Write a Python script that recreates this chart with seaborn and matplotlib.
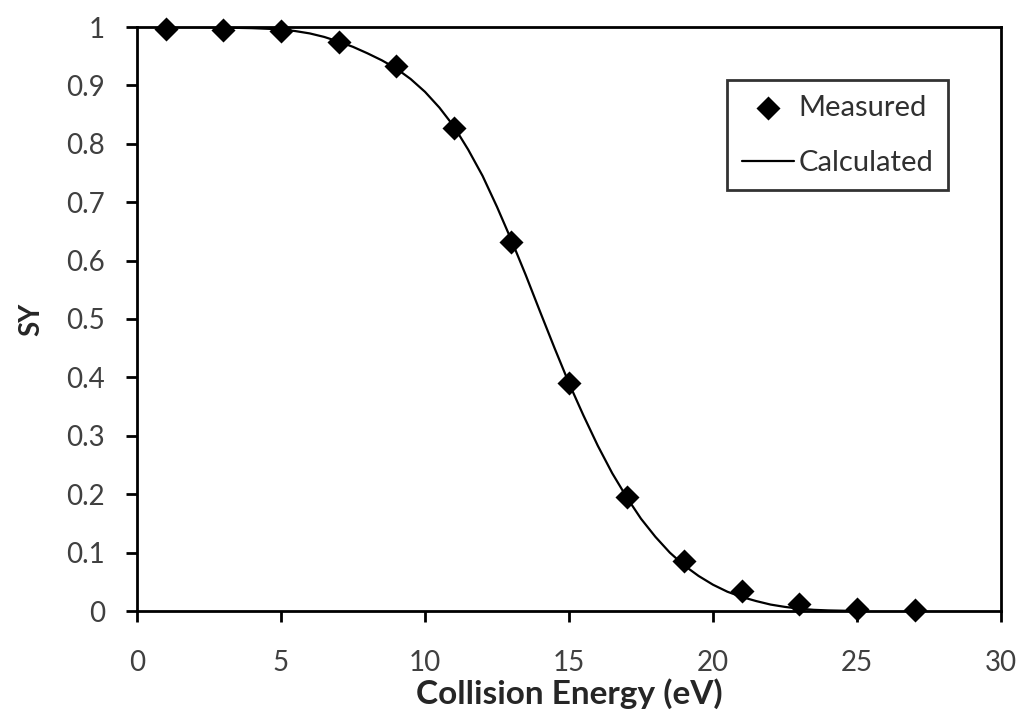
import matplotlib
matplotlib.use("Agg")
import matplotlib.pyplot as plt
import seaborn as sns
import pandas as pd

# Measured data
measured_energy = [1, 3, 5, 7, 9, 11, 13, 15, 17, 19, 21, 23, 25, 27]
measured_sy = [0.997, 0.995, 0.993, 0.975, 0.933, 0.827, 0.631, 0.390,
               0.196, 0.086, 0.035, 0.012, 0.003, 0.002]

# Calculated curve
calc_energy = [1, 2, 3, 4, 5, 5.5, 6, 6.5, 7, 7.5, 8, 8.5, 9, 9.5, 10, 10.5,
               11, 11.5, 12, 12.5, 13, 13.5, 14, 14.5, 15, 15.5, 16, 16.5,
               17, 17.5, 18, 18.5, 19, 19.5, 20, 20.5, 21, 21.5, 22, 22.5,
               23, 23.5, 24, 25]
calc_sy = [1.0, 1.0, 0.999, 0.998, 0.996, 0.993, 0.989, 0.983, 0.975, 0.966,
           0.955, 0.943, 0.929, 0.911, 0.889, 0.862, 0.830, 0.790, 0.745,
           0.692, 0.635, 0.575, 0.512, 0.450, 0.390, 0.335, 0.283, 0.236,
           0.195, 0.158, 0.127, 0.100, 0.078, 0.060, 0.045, 0.033, 0.024,
           0.017, 0.011, 0.007, 0.004, 0.002, 0.001, 0.0]

x_ticks = [0, 5, 10, 15, 20, 25, 30]
y_ticks = [0, 0.1, 0.2, 0.3, 0.4, 0.5, 0.6, 0.7, 0.8, 0.9, 1]
y_tick_labels = ["0", "0.1", "0.2", "0.3", "0.4", "0.5", "0.6", "0.7", "0.8", "0.9", "1"]

sns.set_theme(style="white")
plt.rcParams['font.family'] = ['Lato', 'DejaVu Sans']

df_m = pd.DataFrame({"x": measured_energy, "y": measured_sy})
df_c = pd.DataFrame({"x": calc_energy, "y": calc_sy})

fig = plt.figure(figsize=(10.21, 7.17), dpi=100)
ax = fig.add_axes([137/1021, 1 - 611/717, 864/1021, 584/717])

sns.lineplot(data=df_c, x="x", y="y", ax=ax, color="black", linewidth=1.6,
             label="Calculated", zorder=2)
sns.scatterplot(data=df_m, x="x", y="y", ax=ax, marker="D", s=150,
                color="black", edgecolor="black", linewidth=0,
                label="Measured", zorder=3, clip_on=False)

ax.set_xlim(0, 30)
ax.set_ylim(0, 1)
ax.set_xticks(x_ticks)
ax.set_yticks(y_ticks)
ax.set_xticklabels([str(t) for t in x_ticks])
ax.set_yticklabels(y_tick_labels)
ax.tick_params(axis="both", direction="out", length=8, width=2,
               color="black", labelsize=20, labelcolor="#404040",
               bottom=True, left=True)
ax.tick_params(axis="x", pad=20)
ax.tick_params(axis="y", pad=15)
for s in ax.spines.values():
    s.set_color("black")
    s.set_linewidth(2)

ax.set_xlabel("Collision Energy (eV)", fontsize=24, fontweight="bold",
              color="#262626", labelpad=2)
ax.set_ylabel("SY", fontsize=20, fontweight="bold", color="#262626", labelpad=16)

handles, labels = ax.get_legend_handles_labels()
order = [labels.index("Measured"), labels.index("Calculated")]
leg = ax.legend([handles[i] for i in order], [labels[i] for i in order],
                loc="upper left", bbox_to_anchor=(0.683, 0.909),
                frameon=True, fancybox=False, edgecolor="black",
                fontsize=21, handlelength=1.8, handletextpad=0.15,
                borderpad=0.5, labelspacing=1.0, borderaxespad=0)
leg.get_frame().set_linewidth(2)
for t in leg.get_texts():
    t.set_color("#303030")

fig.savefig("out.png", dpi=100)
